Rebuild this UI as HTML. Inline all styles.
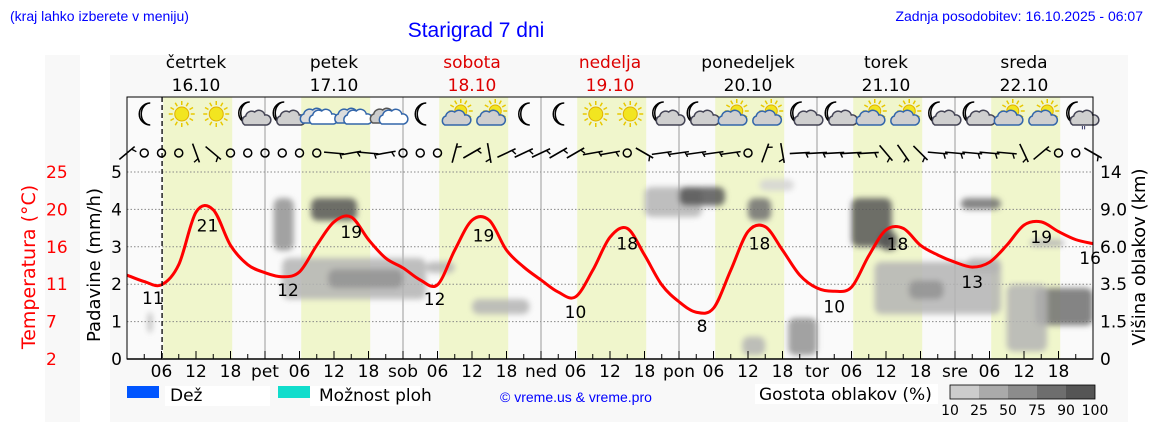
<!DOCTYPE html>
<html><head><meta charset="utf-8">
<style>
html,body{margin:0;padding:0;background:#fff;}
svg{display:block;font-family:"DejaVu Sans","Liberation Sans",sans-serif;}
</style></head>
<body>
<svg id="chart" width="1152" height="443" viewBox="0 0 1152 443" xmlns="http://www.w3.org/2000/svg">
<defs>
<filter id="soft" x="-20%" y="-20%" width="140%" height="140%"><feGaussianBlur stdDeviation="2.8"/></filter>
<clipPath id="plotclip"><rect x="127" y="160" width="966" height="199"/></clipPath>
</defs>
<rect x="45" y="55" width="35" height="367" fill="#f8f8f8"/>
<rect x="110" y="55" width="1018" height="367" fill="#f8f8f8"/>
<rect x="127" y="97" width="966" height="262" fill="#fafafa"/>
<g id="dayshade"></g>
<g id="grid"></g>
<g id="clouds" filter="url(#soft)" clip-path="url(#plotclip)"></g>
<g id="temp"></g>
<g id="icons"></g>
<g id="wind"></g>
<g id="axes"></g>
<text x="10" y="21" font-family="Liberation Sans, sans-serif" font-size="14" fill="#0000ff">(kraj lahko izberete v meniju)</text>
<text x="476" y="37" text-anchor="middle" font-family="Liberation Sans, sans-serif" font-size="21" fill="#0000ff">Starigrad 7 dni</text>
<text x="1143" y="21" text-anchor="end" font-family="Liberation Sans, sans-serif" font-size="14" fill="#0000ff">Zadnja posodobitev: 16.10.2025 - 06:07</text>
<text transform="translate(35,267) rotate(-90)" text-anchor="middle" font-size="19" fill="#ff0000">Temperatura (°C)</text>
<text transform="translate(100,265) rotate(-90)" text-anchor="middle" font-size="18" fill="#000">Padavine (mm/h)</text>
<text transform="translate(1145,257) rotate(-90)" text-anchor="middle" font-size="18" fill="#000">Višina oblakov (km)</text>
<g>
<rect x="127" y="386" width="32" height="12" fill="#0055ff"/>
<rect x="165" y="386" width="105" height="20" fill="#fff"/>
<text x="170" y="401" font-size="17">Dež</text>
<rect x="278" y="386" width="32" height="12" fill="#11ddcc"/>
<rect x="310" y="386" width="110" height="20" fill="#fff"/>
<text x="319" y="401" font-size="17">Možnost ploh</text>
<text x="500" y="402" font-family="Liberation Sans, sans-serif" font-size="14" fill="#0000ff">© vreme.us &amp; vreme.pro</text>
<rect x="755" y="384" width="183" height="20" fill="#fff"/>
<text x="759" y="400" font-size="17">Gostota oblakov (%)</text>
<g id="scale"></g>
</g>
</svg>
<script>
// ---- data ----
const tempValues = [12.6,11.8,11.4,13.9,20.4,20.7,16.3,13.9,12.9,12.4,13.0,16.3,19.2,19.8,17.0,14.7,13.5,12.0,11.4,15.7,19.4,19.4,15.7,13.6,12.0,10.5,9.9,13.2,17.3,18.4,15.1,11.4,9.3,8.0,8.5,13.2,18.0,18.6,15.7,12.6,11.0,10.6,11.1,15.0,18.2,18.4,16.3,15.1,14.2,13.6,14.2,16.3,18.8,19.2,18.0,17.0,16.5];
const labelHours = [4.5,14,28,39,53.5,62,78,87,100,110,123,134,147,159,167.5];
const labelTemps = [11,21,12,19,12,19,10,18,8,18,10,18,13,19,16];
const dayNames = ["četrtek","petek","sobota","nedelja","ponedeljek","torek","sreda"];
const dayDates = ["16.10","17.10","18.10","19.10","20.10","21.10","22.10"];
const dayRed = [false,false,true,true,false,false,false];
const dayAbbr = ["","pet","sob","ned","pon","tor","sre"];
const leftTicks = ["2","7","11","16","20","25"];
const rightTicks = ["0","1.5","3.5","6.0","9.0","14"];
const precipTicks = [0,1,2,3,4,5];
const blobStart = [3.6,25.5,32,27,35,52,60,90,96,108,110,115,107,126,131,130,136,145,158,153,157,146];
const blobEnd   = [4.4,29,40,52,48,57,70,100,104,112,116,120,111,133,134,152,142,152,168,160,163,152];
const blobLow   = [0.7,2.9,3.7,1.6,1.9,2.3,1.2,3.8,4.1,3.7,4.5,0.1,0.1,3.0,2.9,1.2,1.6,4.0,0.9,0.2,3.0,2.3];
const blobHigh  = [1.25,4.3,4.3,2.7,2.4,2.6,1.6,4.6,4.6,4.3,4.8,1.1,0.6,4.3,3.4,2.6,2.1,4.3,1.9,2.0,3.2,2.7];
const blobDensity=[25,50,90,25,50,25,25,25,90,75,10,50,25,90,90,25,50,75,75,25,25,25];
const iconTypes = ["moon","sun","sun","mooncloud","mooncloud","cloudblue","cloudblue","cloud",
 "moon","suncloud","suncloud","moon","moon","sun","sun","mooncloud",
 "mooncloud","suncloud","suncloud","mooncloud","mooncloud","suncloud","suncloud","mooncloud",
 "mooncloud","suncloud","suncloud","mooncloudrain"];
const windAngles = [-40,"c","c","c",70,40,"c","c","c","c","c","c",5,-10,5,-10,"c","c","c",-75,-30,80,-25,-25,-25,-30,-30,-10,-10,"c",30,-8,-8,-8,-8,-8,"c",-70,80,-3,-3,-3,-3,-3,50,55,45,5,5,5,5,5,65,-40,"c","c",30];
const scaleLabels = ["10","25","50","75","90","100"];
const scaleColors = ["#cccccc","#aaaaaa","#8c8c8c","#6e6e6e","#555555"];

// ---- scales ----
const X0=127, DAY=138, Y0=359, UNIT=37.4;
const xH = h => X0 + h*DAY/24;
const yU = u => Y0 - u*UNIT;
const yT = t => Y0 - (t-2.2)/0.124;
const NS="http://www.w3.org/2000/svg";
function mk(tag, attrs, parent, text){const e=document.createElementNS(NS,tag);for(const k in attrs)e.setAttribute(k,attrs[k]);if(text!==undefined)e.textContent=text;parent.appendChild(e);return e;}
const densColor = d => d>=90?"#555":d>=75?"#707070":d>=50?"#939393":d>=25?"#b4b4b4":"#d4d4d4";

const shade=document.getElementById('dayshade');
for(let d=0;d<7;d++){
  const r=mk('rect',{x:xH(d*24+6.3),y:97,width:xH(18.3)-xH(6.3),height:262,fill:'#f0f6cc'},shade);
  
  
}
const grid=document.getElementById('grid');
for(let i=1;i<=5;i++){
  const l=mk('line',{x1:X0,x2:X0+7*DAY,y1:yU(precipTicks[i]),y2:yU(precipTicks[i]),stroke:'#888','stroke-width':1,'stroke-dasharray':'1.5,2'},grid);
  
  
}
for(let d=1;d<7;d++){
  const l=mk('line',{x1:xH(d*24),x2:xH(d*24),y1:97,y2:359,stroke:'#999','stroke-width':1},grid);
  
  
}
const cg=document.getElementById('clouds');
for(let i=0;i<blobStart.length;i++){
  const r=mk('rect',{x:xH(blobStart[i]),y:yU(blobHigh[i]),width:xH(blobEnd[i])-xH(blobStart[i]),height:yU(blobLow[i])-yU(blobHigh[i]),rx:7,fill:densColor(blobDensity[i]),opacity:0.85},cg);
  
  
}
const ax=document.getElementById('axes');
const nl=mk('line',{x1:xH(6.1),x2:xH(6.1),y1:97,y2:359,stroke:'#000','stroke-width':1.3,'stroke-dasharray':'5,3'},ax);


const tg=document.getElementById('temp');
let pts=tempValues.map((t,i)=>[xH(i*3),yT(t)]);
let dstr=`M${pts[0][0]},${pts[0][1]}`;
for(let i=0;i<pts.length-1;i++){
  const p0=pts[Math.max(0,i-1)],p1=pts[i],p2=pts[i+1],p3=pts[Math.min(pts.length-1,i+2)];
  const c1=[p1[0]+(p2[0]-p0[0])/6,p1[1]+(p2[1]-p0[1])/6],c2=[p2[0]-(p3[0]-p1[0])/6,p2[1]-(p3[1]-p1[1])/6];
  dstr+=` C${c1[0]},${c1[1]} ${c2[0]},${c2[1]} ${p2[0]},${p2[1]}`;
}
const tl=mk('path',{d:dstr,fill:'none',stroke:'#ff0000','stroke-width':3},tg);


for(let i=0;i<labelHours.length;i++){
  const h=labelHours[i];const k=Math.min(Math.floor(h/3),tempValues.length-2);const f=h/3-k;
  const tv=tempValues[k]*(1-f)+tempValues[k+1]*f;
  const t=mk('text',{x:xH(h),y:yT(tv)+21,'text-anchor':'middle','font-size':17},tg,String(labelTemps[i]));
  
  
}
const fr=mk('rect',{x:X0,y:97,width:7*DAY,height:262,fill:'none',stroke:'#000','stroke-width':1},ax);


mk('line',{x1:X0,x2:X0+7*DAY,y1:359,y2:359,stroke:'#000','stroke-width':1.5},ax);
for(let h=3;h<168;h+=3){
  const tk=mk('line',{x1:xH(h),x2:xH(h),y1:359,y2:h%6===0?351:354,stroke:'#000','stroke-width':1},ax);
  
  
}
for(let dd=0;dd<7;dd++){
  const lbl=[[6,"06"],[12,"12"],[18,"18"]];
  for(const [h,s] of lbl){
    const t=mk('text',{x:xH(dd*24+h),y:377,'text-anchor':'middle','font-size':17},ax,s);
    
    
  }
  if(dayAbbr[dd]){
    const t=mk('text',{x:xH(dd*24),y:377,'text-anchor':'middle','font-size':17},ax,dayAbbr[dd]);
    
    
  }
  const c=dayRed[dd]?'#dd0000':'#000';
  const n=mk('text',{x:xH(dd*24+12),y:68,'text-anchor':'middle','font-size':17,fill:c},ax,dayNames[dd]);
  
  
  const dt=mk('text',{x:xH(dd*24+12),y:91,'text-anchor':'middle','font-size':17,fill:c},ax,dayDates[dd]);
  
  
}
for(let i=0;i<6;i++){
  const y=yU(precipTicks[i]);
  const a=mk('text',{x:122,y:y+6,'text-anchor':'end','font-size':17},ax,String(precipTicks[i]));
  
  
  const b=mk('text',{x:46,y:y+6,'font-size':17,fill:'#ff0000'},ax,leftTicks[i]);
  
  
  const c=mk('text',{x:1100,y:y+6,'font-size':17},ax,rightTicks[i]);
  
  
}
const ig=document.getElementById('icons');
function sun(g,cx,cy,r){
  for(let a=0;a<360;a+=30){const rad=a*Math.PI/180;mk('line',{x1:cx+Math.cos(rad)*(r+2),y1:cy+Math.sin(rad)*(r+2),x2:cx+Math.cos(rad)*(r+6),y2:cy+Math.sin(rad)*(r+6),stroke:'#e8c800','stroke-width':1.5},g);}
  mk('circle',{cx:cx,cy:cy,r:r,fill:'#f2e520',stroke:'#e0b000','stroke-width':1},g);
}
function moon(g,cx,cy){mk('path',{d:`M${cx+3},${cy-11} A11,11 0 1,0 ${cx+3},${cy+11} A9,11 0 0,1 ${cx+3},${cy-11} Z`,fill:'#fff',stroke:'#000','stroke-width':1.5},g);}
function cloud(g,cx,cy,fill,stroke){mk('path',{d:`M${cx-11},${cy+7} a5,5 0 0,1 1,-9 a6,6 0 0,1 9,-4 a6,6 0 0,1 10,3 a4,4 0 0,1 2,10 Z`,fill:fill,stroke:stroke,'stroke-width':1.5},g);}
for(let i=0;i<iconTypes.length;i++){
  const g=mk('g',{},ig);
  
  
  const cx=xH(3+6*i)+3, cy=114, ty=iconTypes[i];
  if(ty==='sun') sun(g,cx,cy,7);
  else if(ty==='moon') moon(g,cx,cy);
  else if(ty.startsWith('mooncloud')){moon(g,cx-4,cy-1);cloud(g,cx+5,cy+4,'#cfcfcf','#445');if(ty==='mooncloudrain'){mk('text',{x:cx+2,y:cy+21,'font-size':12,fill:'#336'},g,'"');}}
  else if(ty==='suncloud'){sun(g,cx+3,cy-3,6);cloud(g,cx-2,cy+4,'#cfcfcf','#36a');}
  else if(ty==='cloudblue'){cloud(g,cx-6,cy+2,'#ddd','#36a');cloud(g,cx+3,cy+3,'#fff','#36a');}
  else if(ty==='cloud'){cloud(g,cx-5,cy+2,'#ccc','#555');cloud(g,cx+4,cy+3,'#fff','#36a');}
}
const wg=document.getElementById('wind');
for(let i=0;i<windAngles.length;i++){
  const x=xH(i*3), y=153, a=windAngles[i];
  let e;
  if(a==="c"){ e=mk('circle',{cx:x,cy:y,r:4,fill:'none',stroke:'#000','stroke-width':1.5},wg); }
  else{
    e=mk('g',{transform:`translate(${x},${y}) rotate(${a})`},wg);
    mk('line',{x1:-10,y1:0,x2:10,y2:0,stroke:'#000','stroke-width':1.6},e);
    mk('line',{x1:6,y1:0,x2:8,y2:5,stroke:'#000','stroke-width':1.4},e);
  }
  
  
}
const sg=document.getElementById('scale');
for(let i=0;i<scaleColors.length;i++){
  const r=mk('rect',{x:950+i*29,y:385,width:29,height:14,fill:scaleColors[i]},sg);
  
  
}
mk('rect',{x:950,y:385,width:145,height:14,fill:'none',stroke:'#000','stroke-width':0.8},sg);
for(let i=0;i<scaleLabels.length;i++){
  const t=mk('text',{x:950+i*29,y:415,'text-anchor':'middle','font-size':14},sg,scaleLabels[i]);
  
  
}
</script>
</body></html>
